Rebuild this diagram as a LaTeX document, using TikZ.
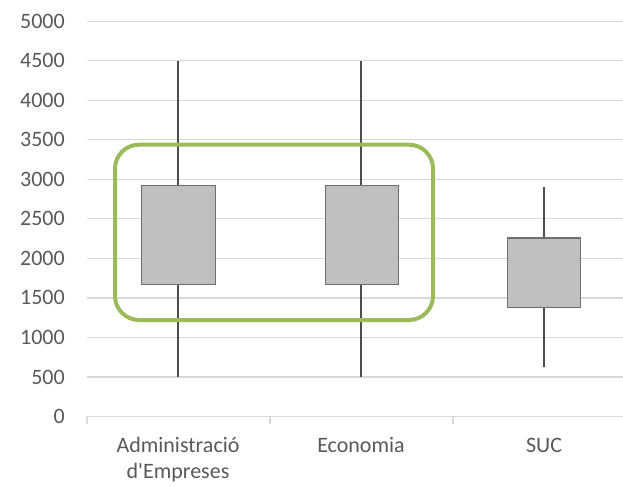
\documentclass[tikz,border=0pt]{standalone}
\usepackage{fontspec}
\newfontfamily\chartfont{Carlito}

\definecolor{gridgray}{HTML}{D9D9D9}
\definecolor{textgray}{HTML}{595959}
\definecolor{boxfill}{HTML}{BFBFBF}
\definecolor{boxline}{HTML}{6E6E6E}
\definecolor{whiskergray}{HTML}{4D4D4D}
\definecolor{olivegreen}{HTML}{9BBB59}

\begin{document}
\begin{tikzpicture}[x=0.75pt,y=0.75pt,
  lbl/.style={text=textgray,font=\chartfont\fontsize{16.5}{20}\selectfont,inner sep=0pt},
  grid/.style={gridgray,line width=0.9pt},
  whisker/.style={whiskergray,line width=0.8pt},
  box/.style={draw=boxline,fill=boxfill,line width=0.9pt}]
\useasboundingbox (0,0) rectangle (623,486);

% values: shift to the zero line, 1 unit = one value
\begin{scope}[shift={(0,69.5)},y=0.0593pt]
\foreach \v in {500,1000,...,5000}
  \draw[grid] (87,\v) -- (623,\v);
\foreach \v in {0,500,...,5000}
  \node[lbl,anchor=east] (val\v) at (65,\v) {\v};

% Administracio d'Empreses
\draw[whisker] (178,500) -- (178,4500);
\draw[box] (141.7,1671) rectangle (215.3,2918);
% Economia
\draw[whisker] (361,500) -- (361,4500);
\draw[box] (325.7,1671) rectangle (398.7,2918);
% SUC
\draw[whisker] (544,630) -- (544,2905);
\draw[box] (507.3,1381) rectangle (580.7,2257);
\end{scope}

% category axis
\draw[grid] (87,69.5) -- (623,69.5);
\foreach \x in {87,270,453}
  \draw[grid] (\x,69.5) -- (\x,62.5);

\node[lbl,anchor=base,align=center] (adm) at (178,7.3) {Administració\\d'Empreses};
\node[lbl,anchor=base] (eco) at (361,34) {Economia};
\node[lbl,anchor=base] (suc) at (544,34) {SUC};

% highlight
\draw[olivegreen,line width=3pt,rounded corners=18pt] (115,166) rectangle (433,341.3);
\end{tikzpicture}
\end{document}
